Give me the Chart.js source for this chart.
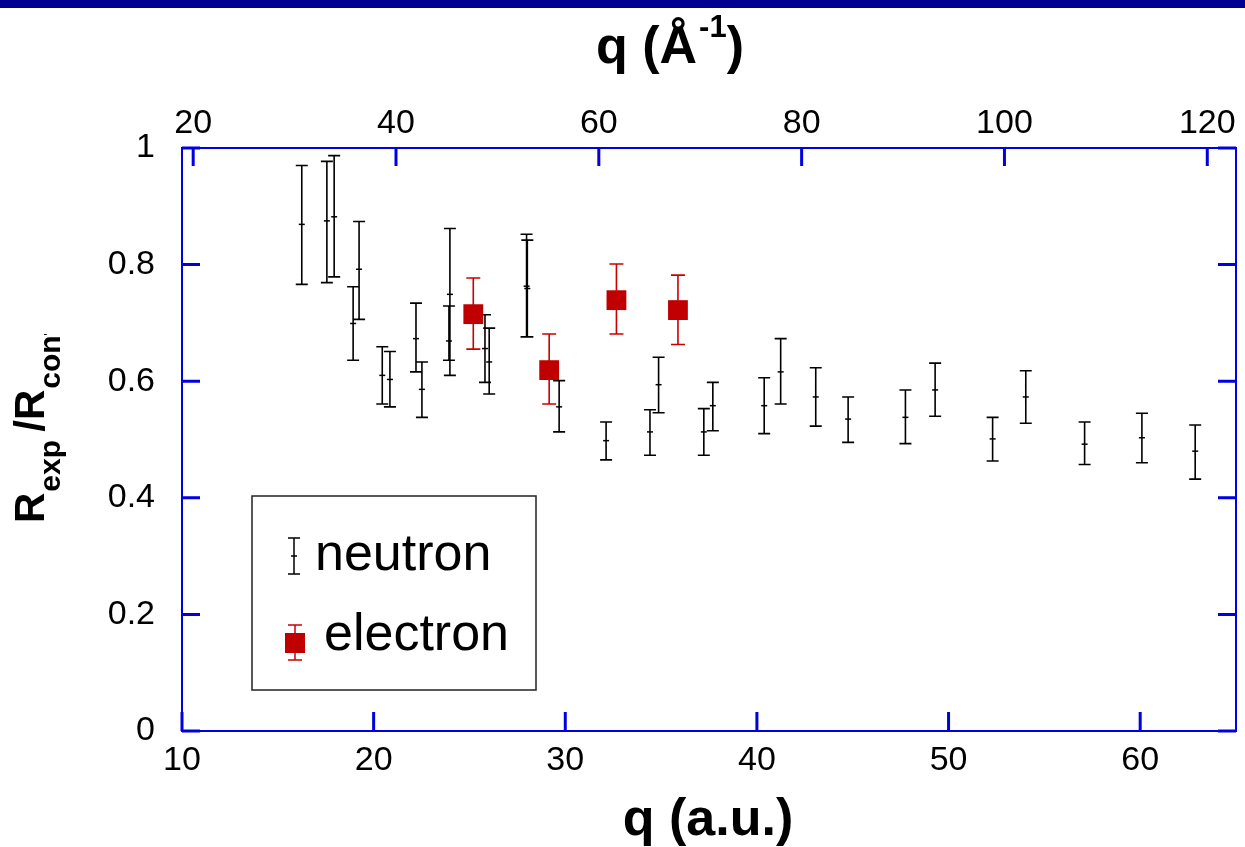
<!DOCTYPE html>
<html lang="en">
<head>
  <meta charset="UTF-8">
  <title>Rexp/Rcont vs q</title>
  <script src="https://cdn.jsdelivr.net/npm/chart.js"></script>
  <style>
    body {
      margin: 0;
      background: #fff;
    }
    .wrap {
      position: relative;
      width: 1245px;
      height: 847px;
    }
    .topbar {
      position: absolute;
      left: 0;
      top: 0;
      width: 1245px;
      height: 8px;
      background: #000090;
    }
  </style>
</head>
<body>
  <div class="wrap">
    <canvas id="chart"></canvas>
    <div class="topbar"></div>
  </div>

  <script>
    // neutron points: q (a.u.), ratio, lower and upper error bar ends
    const neutronQ = [16.25, 17.56, 17.94, 18.93, 19.24, 20.45, 20.85, 22.21, 22.52, 23.93,
      23.98, 25.81, 26.03, 27.98, 28.02, 29.68, 32.13, 34.42, 34.87, 37.23,
      37.70, 40.38, 41.24, 43.07, 44.76, 47.75, 49.30, 52.30, 54.03, 57.10, 60.09, 62.87];
    const neutronR = [0.869, 0.875, 0.882, 0.699, 0.792, 0.610, 0.603, 0.673, 0.586, 0.669,
      0.749, 0.656, 0.633, 0.763, 0.759, 0.556, 0.498, 0.513, 0.594, 0.513,
      0.558, 0.558, 0.616, 0.573, 0.535, 0.538, 0.585, 0.501, 0.573, 0.492, 0.503, 0.480];
    const neutronLo = [0.766, 0.769, 0.779, 0.636, 0.706, 0.561, 0.556, 0.616, 0.538, 0.636,
      0.610, 0.598, 0.578, 0.676, 0.676, 0.513, 0.465, 0.473, 0.546, 0.473,
      0.515, 0.510, 0.561, 0.523, 0.495, 0.493, 0.540, 0.463, 0.528, 0.457, 0.460, 0.432];
    const neutronHi = [0.970, 0.977, 0.987, 0.762, 0.874, 0.659, 0.651, 0.734, 0.633, 0.729,
      0.862, 0.714, 0.691, 0.852, 0.842, 0.601, 0.530, 0.551, 0.641, 0.553,
      0.598, 0.606, 0.673, 0.623, 0.573, 0.585, 0.631, 0.538, 0.618, 0.530, 0.545, 0.525];

    // electron points
    const electronQ = [25.20, 29.16, 32.67, 35.88];
    const electronR = [0.715, 0.619, 0.739, 0.722];
    const electronLo = [0.655, 0.561, 0.681, 0.663];
    const electronHi = [0.777, 0.681, 0.801, 0.782];

    // ticks
    const auTicks = [10, 20, 30, 40, 50, 60];
    const invAngTicks = [20, 40, 60, 80, 100, 120];
    const yTicks = [0, 0.2, 0.4, 0.6, 0.8, 1];

    const BOHR = 0.529177;   // 1 a.u. of q = 1/0.529177 A^-1
    const Q_MIN = 10, Q_MAX = 65;
    const FONT = '"Liberation Sans", Arial, sans-serif';
    const BLUE = '#0000e0';

    const setTicks = list => scale => { scale.ticks = list.map(v => ({ value: v })); };
    const fixHeight = h => s => { s.height = h; s.paddingLeft = 0; s.paddingRight = 0; };

    // box + inward ticks on all four sides
    const frame = {
      id: 'frame',
      beforeDatasetsDraw(chart) {
        const { ctx, chartArea: a, scales } = chart;
        const len = 18;
        ctx.save();
        ctx.strokeStyle = BLUE;
        ctx.lineWidth = 2;
        ctx.strokeRect(a.left, a.top, a.right - a.left, a.bottom - a.top);
        ctx.lineWidth = 3;
        ctx.beginPath();
        auTicks.forEach(v => {
          const px = scales.x.getPixelForValue(v);
          ctx.moveTo(px, a.bottom); ctx.lineTo(px, a.bottom - len - 1);
        });
        invAngTicks.forEach(v => {
          const px = scales.x2.getPixelForValue(v);
          ctx.moveTo(px, a.top); ctx.lineTo(px, a.top + len);
        });
        yTicks.forEach(v => {
          const py = scales.y.getPixelForValue(v);
          ctx.moveTo(a.left, py); ctx.lineTo(a.left + len, py);
          ctx.moveTo(a.right, py); ctx.lineTo(a.right - len, py);
        });
        ctx.stroke();
        ctx.restore();
      }
    };

    const errorBars = {
      id: 'errorBars',
      beforeDatasetsDraw(chart) {
        const { ctx, scales: { x, y } } = chart;
        chart.data.datasets.forEach(ds => {
          const e = ds.errorBars;
          if (!e) return;
          ctx.save();
          ctx.strokeStyle = e.color;
          ctx.lineWidth = 1.6;
          ctx.beginPath();
          ds.data.forEach((p, i) => {
            const px = x.getPixelForValue(p.x);
            const top = y.getPixelForValue(e.hi[i]);
            const bot = y.getPixelForValue(e.lo[i]);
            ctx.moveTo(px, top); ctx.lineTo(px, bot);
            ctx.moveTo(px - e.cap, top); ctx.lineTo(px + e.cap, top);
            ctx.moveTo(px - e.cap, bot); ctx.lineTo(px + e.cap, bot);
          });
          ctx.stroke();
          ctx.restore();
        });
      }
    };

    // legend box with error-bar icons
    const legendBox = {
      id: 'legendBox',
      afterDatasetsDraw(chart) {
        const ctx = chart.ctx;
        ctx.save();
        ctx.strokeStyle = '#222';
        ctx.lineWidth = 1.5;
        ctx.strokeRect(252, 496, 284, 194);

        ctx.strokeStyle = '#000';
        ctx.lineWidth = 1.5;
        ctx.beginPath();
        ctx.moveTo(294, 538); ctx.lineTo(294, 574);
        ctx.moveTo(288, 538); ctx.lineTo(300, 538);
        ctx.moveTo(288, 574); ctx.lineTo(300, 574);
        ctx.moveTo(291, 556); ctx.lineTo(297, 556);
        ctx.stroke();

        ctx.strokeStyle = '#cc0000';
        ctx.beginPath();
        ctx.moveTo(295, 625); ctx.lineTo(295, 660);
        ctx.moveTo(288, 625); ctx.lineTo(302, 625);
        ctx.moveTo(288, 660); ctx.lineTo(302, 660);
        ctx.stroke();
        ctx.fillStyle = '#c00000';
        ctx.fillRect(285, 633, 20, 20);

        ctx.fillStyle = '#000';
        ctx.font = '52px ' + FONT;
        ctx.textBaseline = 'alphabetic';
        ctx.fillText('neutron', 315, 570);
        ctx.fillText('electron', 324, 650);
        ctx.restore();
      }
    };

    // axis titles with sub/superscripts
    const titles = {
      id: 'titles',
      afterDraw(chart) {
        const ctx = chart.ctx;
        ctx.save();
        ctx.fillStyle = '#000';
        ctx.textBaseline = 'alphabetic';

        // bottom
        ctx.font = 'bold 52px ' + FONT;
        ctx.textAlign = 'center';
        ctx.fillText('q (a.u.)', 708, 835);

        // top: q (Å^-1)
        ctx.textAlign = 'left';
        const big = 'bold 52px ' + FONT, small = 'bold 31px ' + FONT;
        ctx.font = big;
        const w1 = ctx.measureText('q (Å').width;
        const w3 = ctx.measureText(')').width;
        ctx.font = small;
        const w2 = ctx.measureText('-1').width;
        let x0 = 670 - (w1 + w2 + w3 + 2) / 2;
        ctx.font = big;
        ctx.fillText('q (Å', x0, 63);
        ctx.font = small;
        ctx.fillText('-1', x0 + w1 + 2, 37);
        ctx.font = big;
        ctx.fillText(')', x0 + w1 + w2 + 2, 63);

        // left: R_exp /R_cont, rotated, clipped at top
        ctx.beginPath();
        ctx.rect(0, 334, 120, 400);
        ctx.clip();
        ctx.translate(44, 523);
        ctx.rotate(-Math.PI / 2);
        const mainF = 'bold 42px ' + FONT, subF = 'bold 30px ' + FONT;
        let cx = 0;
        ctx.font = mainF;
        ctx.fillText('R', cx, 0);
        cx += ctx.measureText('R').width + 1;
        ctx.font = subF;
        ctx.fillText('exp', cx, 16);
        cx += ctx.measureText('exp ').width;
        ctx.font = mainF;
        ctx.fillText('/R', cx, 0);
        cx += ctx.measureText('/R').width + 1;
        ctx.font = subF;
        ctx.fillText('cont', cx, 16);
        ctx.restore();
      }
    };

    const tickFont = { family: FONT, size: 34 };

    new Chart(document.getElementById('chart'), {
      type: 'scatter',
      data: {
        datasets: [
          {
            label: 'neutron',
            data: neutronQ.map((q, i) => ({ x: q, y: neutronR[i] })),
            pointStyle: 'line',
            pointRadius: 3,
            pointBorderWidth: 1.5,
            borderColor: '#000',
            backgroundColor: '#000',
            errorBars: { lo: neutronLo, hi: neutronHi, cap: 6, color: '#000' }
          },
          {
            label: 'electron',
            data: electronQ.map((q, i) => ({ x: q, y: electronR[i] })),
            pointStyle: 'rect',
            pointRadius: 14,
            pointBorderWidth: 0,
            borderColor: '#c00000',
            backgroundColor: '#c00000',
            errorBars: { lo: electronLo, hi: electronHi, cap: 7, color: '#cc0000' }
          }
        ]
      },
      options: {
        responsive: true,
        maintainAspectRatio: false,
        animation: false,
        layout: { autoPadding: false, padding: { left: 0, right: 9, top: 0, bottom: 0 } },
        plugins: {
          legend: { display: false },
          tooltip: { enabled: false }
        },
        scales: {
          x: {
            type: 'linear',
            position: 'bottom',
            min: Q_MIN,
            max: Q_MAX,
            grid: { display: false, drawTicks: false },
            border: { display: false },
            ticks: { font: tickFont, color: '#000', padding: 9, maxRotation: 0 },
            afterBuildTicks: setTicks(auTicks),
            afterFit: fixHeight(116)
          },
          x2: {
            type: 'linear',
            position: 'top',
            min: Q_MIN / BOHR,
            max: Q_MAX / BOHR,
            grid: { display: false, drawTicks: false },
            border: { display: false },
            ticks: { font: tickFont, color: '#000', padding: 4, maxRotation: 0 },
            afterBuildTicks: setTicks(invAngTicks),
            afterFit: fixHeight(148)
          },
          y: {
            type: 'linear',
            min: 0,
            max: 1,
            grid: { display: false, drawTicks: false },
            border: { display: false },
            ticks: {
              font: tickFont,
              color: '#000',
              padding: 27,
              callback: v => String(Math.round(v * 10) / 10)
            },
            afterBuildTicks: setTicks(yTicks),
            afterFit: s => { s.width = 182; s.paddingTop = 0; s.paddingBottom = 0; }
          }
        }
      },
      plugins: [frame, errorBars, legendBox, titles]
    });
  </script>
</body>
</html>
